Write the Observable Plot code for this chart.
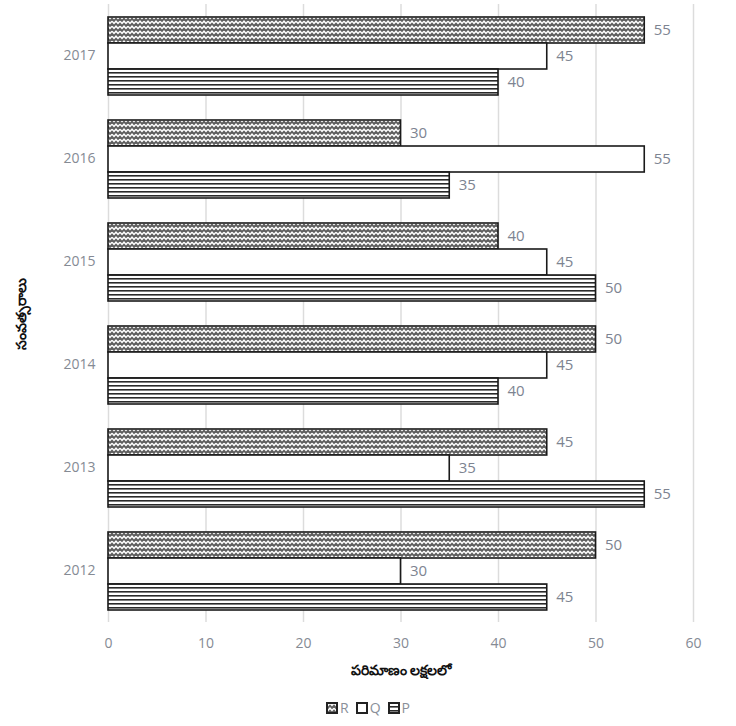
<!DOCTYPE html>
<html>
<head>
<meta charset="utf-8">
<script src="https://cdn.jsdelivr.net/npm/d3@7"></script>
<script src="https://cdn.jsdelivr.net/npm/@observablehq/plot@0.6"></script>
<style>
  body { margin: 0; background: #fff; font-family: "Open Sans", "Noto Sans", sans-serif; }
  #chart { width: 736px; }
  .legend { display: flex; justify-content: center; gap: 7px; margin-top: 8px; font-size: 14px; color: #8a8f99; }
  .legend .item { display: flex; align-items: center; gap: 2px; }
</style>
</head>
<body>
<svg width="0" height="0" style="position:absolute">
  <defs>
    <pattern id="patR" patternUnits="userSpaceOnUse" width="8" height="5">
      <rect width="8" height="5" fill="#5e5e5e"></rect>
      <path d="M0,1.2 L2,3.4 L4,1.2 L6,3.4 L8,1.2" fill="none" stroke="#ffffff" stroke-width="1.5"></path>
    </pattern>
    <pattern id="patQ" patternUnits="userSpaceOnUse" width="4" height="4">
      <rect width="4" height="4" fill="#ffffff"></rect>
    </pattern>
    <pattern id="patP" patternUnits="userSpaceOnUse" width="4" height="4">
      <rect width="4" height="4" fill="#ffffff"></rect>
      <rect y="0" width="4" height="1.6" fill="#2a2a2a"></rect>
    </pattern>
  </defs>
</svg>
<div id="chart"></div>
<script>
const years = ["2012", "2013", "2014", "2015", "2016", "2017"];
const seriesNames = ["R", "Q", "P"];
const valuesR = [50, 45, 50, 40, 30, 55];
const valuesQ = [30, 35, 45, 45, 55, 45];
const valuesP = [45, 55, 40, 50, 35, 40];
const xTicks = [0, 10, 20, 30, 40, 50, 60];
const xLabel = "పరిమాణం లక్షలలో";
const yLabel = "సంవత్సరాలు";
const patterns = ["url(#patR)", "url(#patQ)", "url(#patP)"];

const seriesValues = {R: valuesR, Q: valuesQ, P: valuesP};
const data = [];
years.forEach((year, i) => {
  seriesNames.forEach(s => data.push({year, series: s, value: seriesValues[s][i]}));
});

const tickColor = "#858a94";

const chart = Plot.plot({
  width: 736,
  height: 690,
  marginLeft: 108,
  marginRight: 43,
  marginTop: 4,
  marginBottom: 68,
  style: {fontFamily: "'Open Sans', 'Noto Sans', sans-serif", fontSize: "14px", color: tickColor},
  x: {domain: [0, 60], ticks: xTicks, tickSize: 0, tickPadding: 16, label: xLabel, labelAnchor: "center", labelOffset: 52},
  fy: {domain: years.slice().reverse(), padding: 0, tickSize: 0, tickPadding: 13, label: yLabel, labelAnchor: "center", labelOffset: 92},
  y: {domain: seriesNames, paddingInner: 0, paddingOuter: 0.48, axis: null},
  color: {domain: seriesNames, range: patterns},
  marks: [
    Plot.gridX(xTicks, {stroke: "#dcdcdc", strokeOpacity: 1, strokeWidth: 1.5}),
    Plot.barX(data, {x: "value", y: "series", fy: "year", fill: "series", stroke: "#1a1a1a", strokeWidth: 1.6}),
    Plot.text(data, {x: "value", y: "series", fy: "year", text: d => String(d.value), dx: 9, textAnchor: "start", fill: "#7d8491", fontSize: 15})
  ]
});

d3.select(chart).selectAll("[aria-label='x-axis label'], [aria-label='fy-axis label']")
  .attr("fill", "#111").style("font-weight", "bold").style("font-size", "14px");
d3.select(chart).selectAll("[aria-label='x-axis label'] text, [aria-label='fy-axis label'] text")
  .each(function() {
    const t = d3.select(this);
    t.text(t.text().replace(/\s*[→←↑↓]\s*/g, ""));
  });

document.getElementById("chart").appendChild(chart);

const legend = d3.select("#chart").append("div").attr("class", "legend");
seriesNames.forEach((s, i) => {
  const item = legend.append("div").attr("class", "item");
  const sw = item.append("svg").attr("width", 12).attr("height", 12);
  sw.append("rect").attr("x", 1).attr("y", 1).attr("width", 10).attr("height", 10)
    .attr("fill", patterns[i]).attr("stroke", "#222").attr("stroke-width", 2);
  item.append("span").text(s);
});
</script>
</body>
</html>
